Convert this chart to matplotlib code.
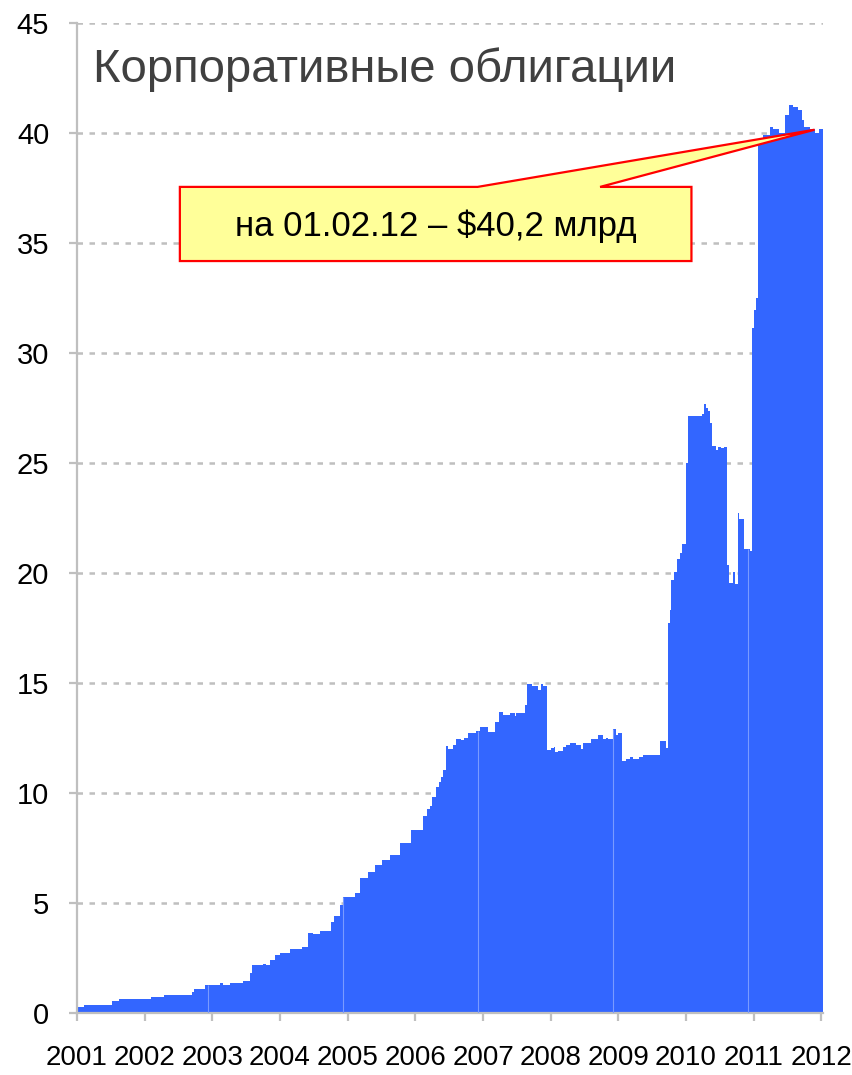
import matplotlib
matplotlib.use('Agg')
import matplotlib.pyplot as plt
from matplotlib.patches import Polygon
import numpy as np

# объем рынка корпоративных облигаций, млрд $ (ступенчатый ряд)
years = [2001.00, 2001.11, 2001.52, 2001.62, 2002.09, 2002.29, 2002.70, 2002.73,
         2002.89, 2003.11, 2003.16, 2003.26, 2003.46, 2003.55, 2003.58, 2003.75,
         2003.79, 2003.85, 2003.92, 2004.00, 2004.15, 2004.33, 2004.42, 2004.49,
         2004.59, 2004.76, 2004.80, 2004.88, 2004.93, 2005.11, 2005.18, 2005.30,
         2005.40, 2005.50, 2005.62, 2005.77, 2005.93, 2006.12, 2006.17, 2006.22,
         2006.25, 2006.31, 2006.35, 2006.38, 2006.41, 2006.45, 2006.48, 2006.56,
         2006.60, 2006.68, 2006.72, 2006.78, 2006.89, 2006.95, 2007.08, 2007.17,
         2007.24, 2007.30, 2007.40, 2007.47, 2007.49, 2007.62, 2007.65, 2007.72,
         2007.81, 2007.85, 2007.89, 2007.94, 2008.01, 2008.05, 2008.07, 2008.11,
         2008.18, 2008.23, 2008.29, 2008.38, 2008.45, 2008.48, 2008.60, 2008.70,
         2008.77, 2008.82, 2008.85, 2008.92, 2008.96, 2008.99, 2009.05, 2009.12,
         2009.17, 2009.22, 2009.31, 2009.37, 2009.62, 2009.71, 2009.74, 2009.77,
         2009.78, 2009.82, 2009.87, 2009.91, 2009.94, 2010.00, 2010.03, 2010.23,
         2010.26, 2010.29, 2010.33, 2010.35, 2010.38, 2010.45, 2010.47, 2010.52,
         2010.56, 2010.60, 2010.64, 2010.69, 2010.73, 2010.77, 2010.78, 2010.85,
         2010.94, 2010.98, 2011.01, 2011.04, 2011.06, 2011.14, 2011.24, 2011.29,
         2011.38, 2011.46, 2011.52, 2011.58, 2011.65, 2011.71, 2011.75, 2011.83,
         2011.90, 2011.97, 2012.02]
values = [0.26, 0.35, 0.55, 0.62, 0.71, 0.80, 0.97, 1.08,
          1.26, 1.35, 1.26, 1.38, 1.44, 1.80, 2.18, 2.23,
          2.16, 2.41, 2.64, 2.71, 2.91, 3.01, 3.65, 3.60,
          3.74, 4.15, 4.42, 4.91, 5.29, 5.47, 6.12, 6.42,
          6.73, 6.95, 7.18, 7.71, 8.32, 8.95, 9.26, 9.42,
          9.80, 10.26, 10.51, 10.71, 11.05, 12.14, 12.00, 12.18,
          12.44, 12.39, 12.48, 12.71, 12.82, 13.01, 12.79, 13.24,
          13.70, 13.55, 13.65, 13.50, 13.65, 14.00, 14.95, 14.86,
          14.68, 14.95, 14.86, 11.95, 12.03, 12.08, 11.86, 11.90,
          12.08, 12.18, 12.29, 12.18, 12.00, 12.29, 12.45, 12.64,
          12.45, 12.52, 12.45, 12.89, 12.64, 12.74, 11.47, 11.53,
          11.62, 11.55, 11.62, 11.73, 12.36, 12.03, 17.71, 18.32,
          19.68, 20.06, 20.62, 20.90, 21.32, 24.98, 27.14, 27.23,
          27.67, 27.49, 27.38, 26.80, 25.77, 25.59, 25.73, 25.66,
          25.73, 20.36, 19.56, 20.06, 19.50, 22.71, 22.45, 21.08,
          21.00, 31.12, 31.95, 32.49, 39.50, 39.90, 40.26, 40.20,
          39.99, 40.82, 41.27, 41.20, 41.05, 40.59, 40.29, 40.20,
          40.01, 40.20, 40.20]

year_ticks = list(range(2001, 2013))
value_ticks = list(range(0, 50, 5))
seam_years = [2002.93, 2004.93, 2006.92, 2008.92, 2010.92]
last_point = (2011.90, 40.15)

title = "Корпоративные облигации"
note = "на 01.02.12 – $40,2 млрд"

plt.rcParams['font.family'] = ['Liberation Sans', 'DejaVu Sans']

fig = plt.figure(figsize=(8.53, 10.75), dpi=100)
ax = fig.add_axes([77/853, 62/1075, 746/853, 990/1075])

ax.fill_between(years, values, step='post', color='#3366FF', lw=0, zorder=2)

# тонкие светлые швы внутри заливки
for s in seam_years:
    i = np.searchsorted(years, s, side='right') - 1
    ax.vlines(s, 0, values[i], color='#7A9BFF', lw=0.8, zorder=3)

ax.set_xlim(2001, 2012.024)
ax.set_ylim(0, 45)
ax.set_xticks(year_ticks)
ax.set_yticks(value_ticks)
ax.set_xticklabels([str(y) for y in year_ticks])

ax.yaxis.grid(True, color='#BFBFBF', lw=1.8, linestyle=(0, (2.2, 2.6)))
ax.set_axisbelow(True)

for side in ['top', 'right']:
    ax.spines[side].set_visible(False)
for side in ['left', 'bottom']:
    ax.spines[side].set_color('#BFBFBF')
    ax.spines[side].set_linewidth(1.6)

ax.tick_params(axis='y', length=6, width=1.6, color='#BFBFBF', pad=14, labelsize=21)
ax.tick_params(axis='x', length=6, width=1.6, color='#BFBFBF', pad=17, labelsize=20)

ax.text(0.0214, 0.9404, title, transform=ax.transAxes, fontsize=34,
        color='#404040', va='baseline', ha='left')

# выноска: прямоугольник с клином к последней точке
box_x0, box_x1 = 2002.52, 2010.08
box_y0, box_y1 = 34.18, 37.55
wedge_a, wedge_b = 2006.92, 2008.73
callout = Polygon([(box_x0, box_y1), (wedge_a, box_y1), last_point,
                   (wedge_b, box_y1), (box_x1, box_y1), (box_x1, box_y0),
                   (box_x0, box_y0)], closed=True, facecolor='#FFFF99',
                  edgecolor='#FF0000', lw=1.6, zorder=6, clip_on=False)
ax.add_patch(callout)
ax.text((box_x0 + box_x1) / 2, (box_y0 + box_y1) / 2 - 0.1, note, fontsize=25,
        color='black', ha='center', va='center', zorder=7)

fig.savefig('out.png', dpi=100)
